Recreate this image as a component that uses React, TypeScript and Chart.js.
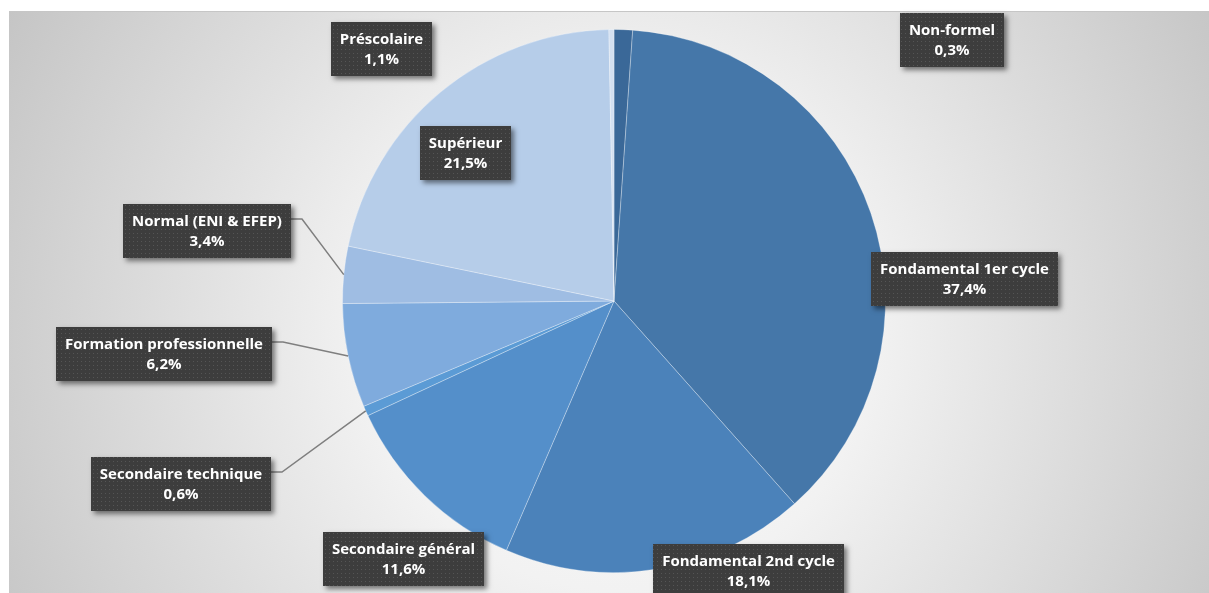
import React, { useEffect, useRef } from 'react';
import { Chart, registerables } from 'chart.js';

Chart.register(...registerables);

const categories = [
  'Préscolaire',
  'Fondamental 1er cycle',
  'Fondamental 2nd cycle',
  'Secondaire général',
  'Secondaire technique',
  'Formation professionnelle',
  'Normal (ENI & EFEP)',
  'Supérieur',
  'Non-formel',
];
const values = [1.1, 37.4, 18.1, 11.6, 0.6, 6.2, 3.4, 21.5, 0.3];
const sliceColors = ['#3a6898', '#4577a9', '#4b82ba', '#548fca', '#5b9bd5', '#7fabdd', '#9fbde3', '#b6cde9', '#d3e0f1'];

// label box centres relative to the pie centre, in units of the pie radius
const labelOffsets: [number, number][] = [
  [-0.857, -0.93],
  [1.29, -0.081],
  [0.496, 0.996],
  [-0.776, 0.952],
  [-1.596, 0.673],
  [-1.658, 0.195],
  [-1.5, -0.257],
  [-0.548, -0.544],
  [1.246, -0.96],
];
const hasLeader = [false, false, false, false, true, true, true, false, false];

const FONT = 'bold 15px "Open Sans", "Noto Sans", sans-serif';

function fmt(v: number) {
  return v.toFixed(1).replace('.', ',') + '%';
}

export default function App() {
  const ref = useRef<HTMLCanvasElement | null>(null);

  useEffect(() => {
    document.documentElement.style.overflow = 'hidden';
    document.body.style.margin = '0';
    document.body.style.overflow = 'hidden';
    document.body.style.background = '#c4c4c4';
    const canvas = ref.current!;
    let pattern: CanvasPattern | null = null;
    const pc = document.createElement('canvas');
    pc.width = 4;
    pc.height = 4;
    const pctx = pc.getContext('2d')!;
    pctx.fillStyle = '#3d3d3d';
    pctx.fillRect(0, 0, 4, 4);
    pctx.fillStyle = '#555555';
    pctx.fillRect(1, 1, 1, 1);

    const bgPlugin = {
      id: 'bg',
      beforeDraw(chart: any) {
        const ctx = chart.ctx;
        const w = Math.max(ctx.canvas.width, chart.width);
        const h = Math.max(ctx.canvas.height, chart.height);
        ctx.save();
        ctx.fillStyle = '#ffffff';
        ctx.fillRect(0, 0, w, h);
        const g = ctx.createRadialGradient(618, 338, 0, 618, 338, 720);
        g.addColorStop(0, '#fbfbfb');
        g.addColorStop(0.35, '#f2f2f2');
        g.addColorStop(1, '#c2c2c2');
        ctx.fillStyle = g;
        ctx.fillRect(9, 11, w - 9, h - 11);
        ctx.strokeStyle = '#c6c6c6';
        ctx.lineWidth = 1;
        ctx.beginPath();
        ctx.moveTo(9, 11.5);
        ctx.lineTo(w, 11.5);
        ctx.stroke();
        ctx.restore();
      },
    };

    const labelPlugin = {
      id: 'labels',
      afterDraw(chart: any) {
        const ctx = chart.ctx;
        if (!pattern) pattern = ctx.createPattern(pc, 'repeat');
        const meta = chart.getDatasetMeta(0);
        ctx.save();
        ctx.font = FONT;
        const boxes: any[] = [];
        meta.data.forEach((arc: any, i: number) => {
          const p = arc.getProps(['x', 'y', 'startAngle', 'endAngle', 'outerRadius'], true);
          const R = p.outerRadius;
          const cx = p.x + labelOffsets[i][0] * R;
          const cy = p.y + labelOffsets[i][1] * R;
          const l1 = categories[i];
          const l2 = fmt(values[i]);
          const tw = Math.max(ctx.measureText(l1).width, ctx.measureText(l2).width);
          const bw = Math.round(tw + 18);
          const bh = 54;
          const left = Math.round(cx - bw / 2);
          const top = Math.round(cy - bh / 2);
          boxes.push({ left, top, bw, bh, l1, l2 });
          if (hasLeader[i]) {
            const mid = (p.startAngle + p.endAngle) / 2;
            const px = p.x + R * Math.cos(mid);
            const py = p.y + R * Math.sin(mid);
            ctx.strokeStyle = '#7f7f7f';
            ctx.lineWidth = 1.5;
            ctx.beginPath();
            ctx.moveTo(left + bw, top + 15);
            ctx.lineTo(left + bw + 11, top + 15);
            ctx.lineTo(px, py);
            ctx.stroke();
          }
        });
        boxes.forEach((b) => {
          ctx.save();
          ctx.shadowColor = 'rgba(0,0,0,0.5)';
          ctx.shadowBlur = 5;
          ctx.shadowOffsetX = 3;
          ctx.shadowOffsetY = 3;
          ctx.fillStyle = '#3d3d3d';
          ctx.fillRect(b.left, b.top, b.bw, b.bh);
          ctx.restore();
          ctx.fillStyle = pattern;
          ctx.fillRect(b.left, b.top, b.bw, b.bh);
          ctx.fillStyle = '#ffffff';
          ctx.textAlign = 'center';
          ctx.textBaseline = 'middle';
          ctx.font = FONT;
          const tx = b.left + b.bw / 2;
          ctx.fillText(b.l1, tx, b.top + 18);
          ctx.fillText(b.l2, tx, b.top + 38);
        });
        ctx.restore();
      },
    };

    const chart = new Chart(canvas, {
      type: 'pie',
      data: {
        labels: categories,
        datasets: [
          {
            data: values,
            backgroundColor: sliceColors,
            borderColor: 'rgba(255,255,255,0.3)',
            borderWidth: 1,
          },
        ],
      },
      options: {
        animation: false,
        responsive: false,
        devicePixelRatio: 1,
        layout: { padding: { left: 19, right: 0, top: 29, bottom: 20 } },
        plugins: {
          legend: { display: false },
          tooltip: { enabled: false },
        },
      },
      plugins: [bgPlugin, labelPlugin],
    });
    return () => chart.destroy();
  }, []);

  return (
    <div style={{ width: 1209, height: 593, overflow: 'hidden' }}>
      <canvas ref={ref} width={1209} height={593} style={{ display: 'block' }} />
    </div>
  );
}
